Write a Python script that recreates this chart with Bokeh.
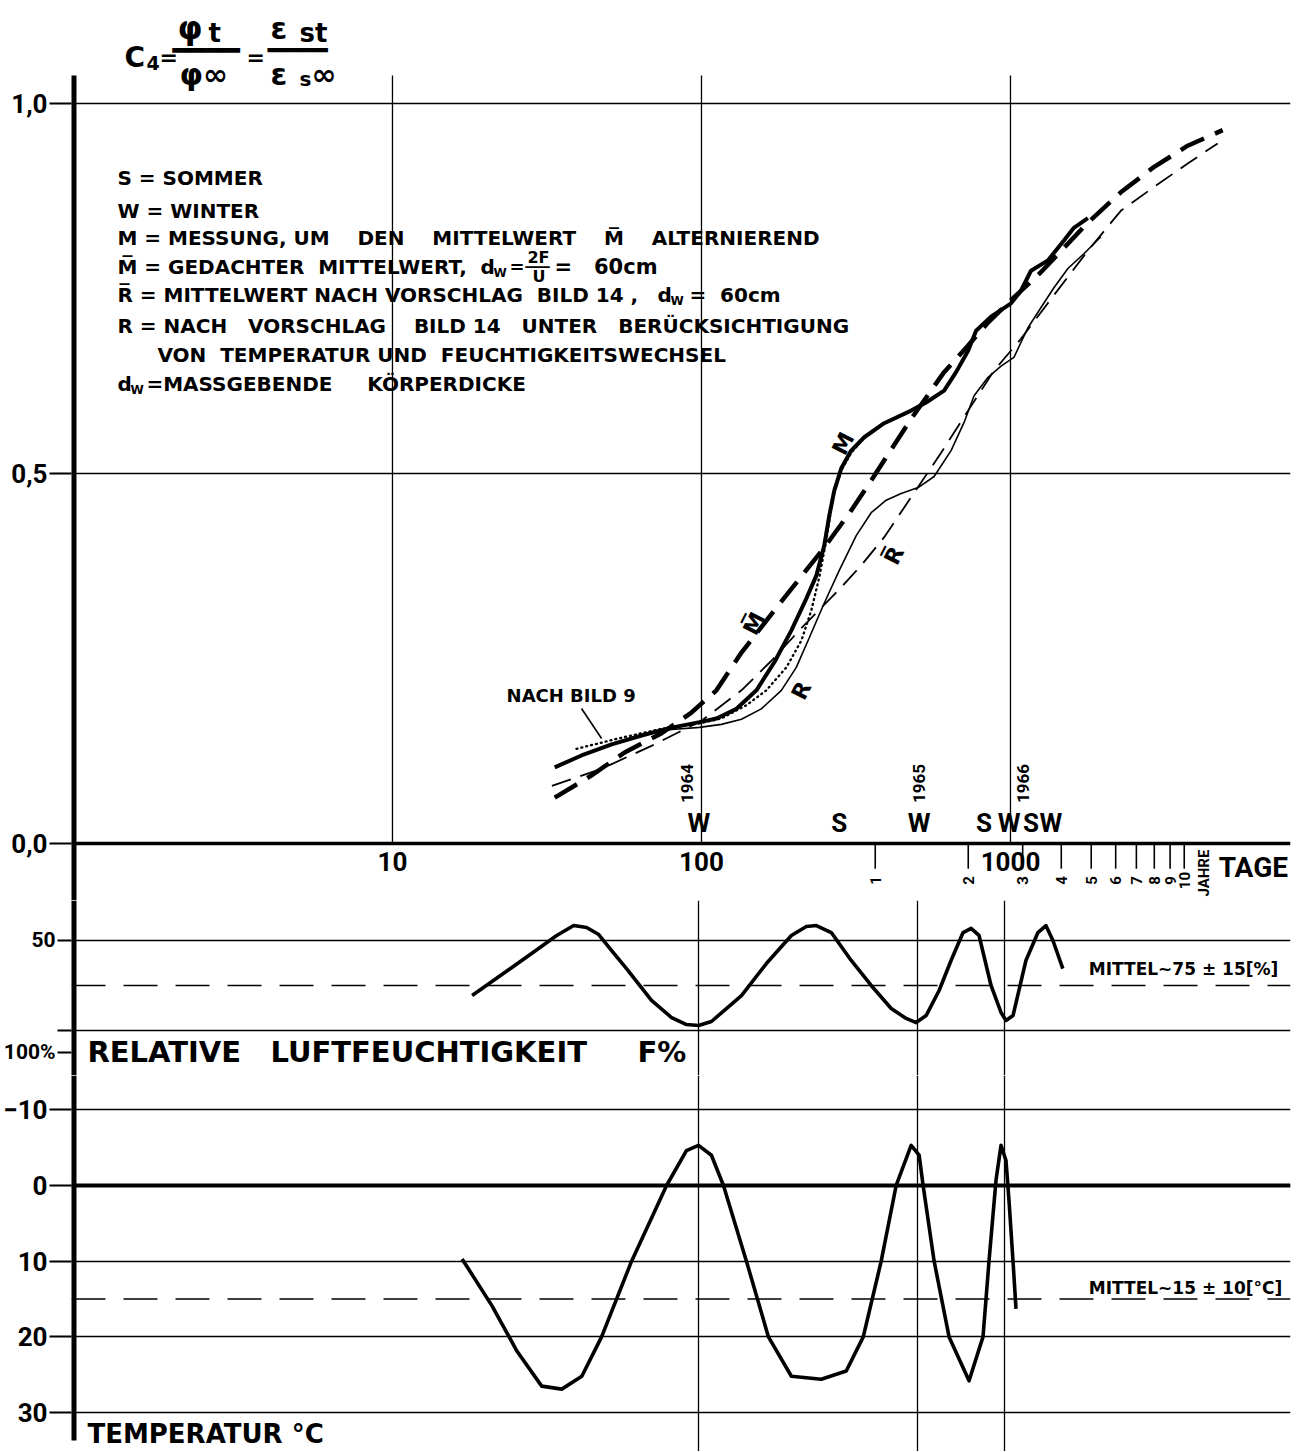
from bokeh.plotting import figure
from bokeh.layouts import column
from bokeh.models import Range1d, FixedTicker, Span
from bokeh.core.properties import value
from bokeh.embed import file_html
from bokeh.resources import INLINE

FONT = "DejaVu Sans"
TICKFONT = "Roboto"
NB = "\u00a0"
BAR = "\u2501"

# ---------------- data (x = age in days, log scale) ----------------
# M : measurement (thick solid, alternating about M-bar)
m_days = [33.5, 40.9, 51.2, 64.0, 77.1, 88.1, 98.5, 111.8, 129.8, 150.6, 172.1, 195.4, 218.4, 235.3,
          249.7, 259.2, 269.0, 283.4, 305.2, 336.3, 390.2, 477.0, 533.3, 609.8, 666.6, 729.2, 773.7,
          865.0, 1004, 1081, 1165, 1322, 1489, 1604, 1780]
m_vals = [0.103, 0.119, 0.134, 0.146, 0.155, 0.160, 0.164, 0.169, 0.182, 0.207, 0.245, 0.288, 0.331, 0.362,
          0.403, 0.443, 0.477, 0.507, 0.531, 0.549, 0.568, 0.585, 0.596, 0.612, 0.637, 0.666, 0.693,
          0.712, 0.730, 0.747, 0.774, 0.788, 0.815, 0.832, 0.845]
# M-bar : assumed mean value (thick dashed)
mbar_days = [33.5, 44.1, 56.4, 74.3, 92.8, 111.8, 134.7, 172.1, 210.4, 249.7, 305.2, 362.4, 477.0, 609.8,
             729.2, 845.9, 1026, 1254, 1780, 2275, 2909, 3746, 4860]
mbar_vals = [0.062, 0.092, 0.123, 0.149, 0.177, 0.207, 0.258, 0.315, 0.361, 0.400, 0.450, 0.497, 0.574, 0.637,
             0.673, 0.704, 0.738, 0.772, 0.839, 0.880, 0.914, 0.943, 0.964]
# R-bar : mean value after proposal Bild 14 (thin dashed)
rbar_days = [32.8, 47.5, 68.9, 100, 134.7, 168.4, 210.4, 277.2, 328.9, 390.2, 477.0, 596.4, 729.2, 884.6,
             1081, 1382, 1780, 2275, 2909, 3746, 4682]
rbar_vals = [0.078, 0.101, 0.132, 0.166, 0.207, 0.247, 0.291, 0.342, 0.376, 0.414, 0.468, 0.528, 0.585, 0.639,
             0.682, 0.741, 0.801, 0.855, 0.887, 0.919, 0.946]
# R : after proposal Bild 14 with temperature/humidity changes (thin solid)
r_days = [64.0, 80.0, 98.5, 116.0, 134.7, 156.2, 181.4, 202.7, 223.3, 247.9, 279.2, 316.8, 354.2, 396.0,
          442.9, 502.5, 566.1, 642.2, 707.6, 762.4, 845.9, 931.8, 1026, 1139, 1254, 1382, 1534, 1728, 1961]
r_vals = [0.146, 0.154, 0.157, 0.161, 0.168, 0.182, 0.207, 0.238, 0.278, 0.322, 0.369, 0.416, 0.447, 0.464,
          0.473, 0.481, 0.496, 0.531, 0.569, 0.605, 0.630, 0.645, 0.657, 0.697, 0.724, 0.751, 0.777, 0.797, 0.820]
# "NACH BILD 9" (dotted)
b9_days = [39.4, 55.1, 74.3, 97.8, 116.0, 139.8, 162.2, 188.2, 210.4, 226.7, 240.6, 253.5, 267.0, 283.4,
           305.2, 333.8]
b9_vals = [0.128, 0.143, 0.155, 0.162, 0.169, 0.187, 0.207, 0.238, 0.274, 0.315, 0.360, 0.410, 0.470, 0.504,
           0.528, 0.547]

# relative humidity F %
hum_days = [18.1, 22.6, 28.2, 34.0, 38.6, 42.5, 46.5, 51.2, 57.2, 68.9, 80.0, 89.4, 97.8, 107.7, 120.4,
            134.7, 162.2, 195.4, 218.4, 235.3, 263.1, 305.2, 354.2, 411.1, 459.6, 495.1, 533.3, 587.5,
            642.2, 702.3, 745.6, 791.1, 865.0, 931.8, 967.1, 1019, 1122, 1227, 1302, 1372, 1477]
hum_vals = [80.6, 68.9, 57.2, 47.2, 41.7, 42.8, 46.7, 55.6, 65.6, 83.3, 92.8, 96.7, 97.2, 95.0, 87.8,
            80.6, 62.8, 47.2, 42.2, 41.7, 45.6, 61.1, 75.0, 87.8, 93.3, 95.6, 91.7, 77.8,
            61.1, 45.6, 43.3, 47.2, 75.0, 90.0, 94.4, 91.7, 61.1, 45.6, 41.7, 50.0, 65.6]
hum_mean = 75

# temperature degC
temp_days = [16.8, 21.0, 25.3, 30.4, 35.3, 41.0, 47.5, 59.4, 77.1, 89.4, 97.8, 107.7, 117.8, 139.8, 164.7,
             195.4, 244.2, 294.1, 333.8, 381.6, 426.6, 477.0, 506.3, 521.5, 566.1, 632.8, 734.4, 814.8,
             852.1, 897.8, 931.8, 967.1, 989, 1019, 1042]
temp_vals = [9.7, 15.9, 21.9, 26.5, 26.9, 25.2, 20.0, 10.0, 0.0, -4.6, -5.3, -4.0, 0.0, 10.0, 20.0,
             25.2, 25.6, 24.5, 20.0, 10.0, 0.0, -5.3, -4.0, 0.0, 10.0, 20.0, 25.8, 20.0,
             10.0, -0.7, -5.3, -3.3, 2.0, 10.0, 16.3]
temp_mean = 15

# axes / ticks / annotations
decade_ticks = [10, 100, 1000]
decade_labels = ["10", "100", "1000"]
year_ticks = [365, 730, 1095, 1460, 1825, 2190, 2555, 2920, 3285, 3650]
year_labels = ["1", "2", "3", "4", "5", "6", "7", "8", "9", "10"]
winter_days = [98, 500, 953]
season_days = [98, 279, 506, 821, 989, 1165, 1351]
season_labels = ["W", "S", "W", "S", "W", "S", "W"]
winter_years = ["1964", "1965", "1966"]
winter_year_days = [90, 506, 1098]
c4_ticks = [0, 0.5, 1.0]
c4_labels = ["0,0", "0,5", "1,0"]
hum_ticks = [50, 100]
hum_label_row = 112.2          # row of the "100% RELATIVE LUFTFEUCHTIGKEIT" caption
temp_ticks = [-10, 0, 10, 20, 30]

# ---------------- figures ----------------
W = 1295
XR = Range1d(0.9147, 8057)
C4_TOP = 1.0378           # top end of the C4 grid
common = dict(width=W, x_range=XR, x_axis_type="log", x_axis_location=None, output_backend="svg",
              toolbar_location=None, min_border_left=69, min_border_right=5, min_border_bottom=0,
              background_fill_color="white", border_fill_color="white")

pA = figure(height=900, y_range=Range1d(-0.0770, 1.1338), min_border_top=4, **common)
pB = figure(height=175, y_range=Range1d(125, 27.78), min_border_top=0, **common)
pC = figure(height=376, y_range=Range1d(35.14, -14.53), min_border_top=0, **common)


def style_left(p, ticks, grid_ticks, overrides=None, size="26px", tick_out=22):
    ax = p.yaxis[0]
    ax.ticker = FixedTicker(ticks=ticks)
    if overrides:
        ax.major_label_overrides = overrides
    ax.axis_line_color = None
    ax.major_tick_out = tick_out
    ax.major_tick_in = 0
    ax.major_tick_line_width = 2
    ax.major_tick_line_color = "black"
    ax.minor_tick_line_color = None
    ax.major_label_text_font = TICKFONT
    ax.major_label_text_font_style = "bold"
    ax.major_label_text_font_size = size
    ax.major_label_text_color = "black"
    ax.major_label_standoff = 2
    p.ygrid.ticker = FixedTicker(ticks=grid_ticks)
    p.ygrid.grid_line_color = "black"
    p.ygrid.grid_line_width = 1.3
    p.ygrid.grid_line_alpha = 1
    p.outline_line_color = None


style_left(pA, c4_ticks, [0.5, 1.0], {t: l for t, l in zip(c4_ticks, c4_labels)})
style_left(pB, hum_ticks + [hum_label_row], hum_ticks, {100: "", hum_label_row: "100%"},
           size="21px", tick_out=14)
style_left(pC, temp_ticks, temp_ticks)

pA.xgrid.visible = False
for p in (pB, pC):
    p.xgrid.ticker = FixedTicker(ticks=winter_days)
    p.xgrid.grid_line_color = "black"
    p.xgrid.grid_line_width = 1.3
    p.xgrid.grid_line_alpha = 1

# thick left axis line (drawn on the frame edge of every panel)
x0 = XR.start
pA.segment(x0=[x0], y0=[-0.0770], x1=[x0], y1=[C4_TOP], line_width=10, line_color="black")
pB.segment(x0=[x0], y0=[125], x1=[x0], y1=[27.78], line_width=10, line_color="black")
pC.segment(x0=[x0], y0=[-14.53], x1=[x0], y1=[33.7], line_width=10, line_color="black")


def txt(p, x, y, text, size, angle=0.0, align="left", baseline="middle", xo=0, yo=0, style="bold",
        font=FONT):
    p.text(x=x, y=y, text=text, text_font=value(font), text_font_size=size, text_font_style=style,
           text_align=align, text_baseline=baseline, angle=angle, x_offset=xo, y_offset=yo,
           text_color="black")


def nb(s):
    return s.replace(" ", NB)


# ---------------- top panel grid & x scale ----------------
pA.segment(x0=decade_ticks, y0=[0] * 3, x1=decade_ticks, y1=[C4_TOP] * 3, line_width=1.3,
           line_color="black")
pA.add_layout(Span(location=0, dimension="width", line_color="black", line_width=3.5))
pA.segment(x0=year_ticks, y0=[0] * len(year_ticks), x1=year_ticks, y1=[-0.034] * len(year_ticks),
           line_width=1.6, line_color="black")
txt(pA, decade_ticks, [-0.0245] * 3, decade_labels, "26px", align="center", font=TICKFONT)
txt(pA, year_ticks, [-0.050] * len(year_ticks), year_labels, "15px", angle=1.5708, align="center",
    font=TICKFONT)
txt(pA, [4220], [-0.040], ["JAHRE"], "15px", angle=1.5708, align="center", font=TICKFONT)
txt(pA, [4718], [-0.0324], ["TAGE"], "28px", font=TICKFONT)

# ---------------- top panel curves ----------------
pA.line(mbar_days, mbar_vals, line_width=4.5, line_color="black", line_dash="26 12")
pA.line(rbar_days, rbar_vals, line_width=1.8, line_color="black", line_dash="20 10")
pA.line(r_days, r_vals, line_width=1.6, line_color="black")
pA.line(b9_days, b9_vals, line_width=2.3, line_color="black", line_dash="1 4", line_cap="round")
pA.line(m_days, m_vals, line_width=4, line_color="black")

# curve labels
txt(pA, [287.6], [0.5405], ["M"], "22px", angle=1.1, align="center")
txt(pA, [148.3], [0.2973], ["M\u0305"], "22px", angle=1.1, align="center")
txt(pA, [210.4], [0.2068], ["R"], "22px", angle=1.1, align="center")
txt(pA, [420.3], [0.3892], ["R\u0305"], "22px", angle=1.1, align="center")
txt(pA, [23.4], [0.200], [nb("NACH BILD 9")], "18px")
pA.segment(x0=[40.9], y0=[0.1824], x1=[47.5], y1=[0.1419], line_width=1.6, line_color="black")

# seasons and years
txt(pA, season_days, [0.0284] * len(season_days), season_labels, "26px", align="center",
    font=TICKFONT)
txt(pA, winter_year_days, [0.0811] * 3, winter_years, "17px", angle=1.5708, align="center",
    font=TICKFONT)

# legend block
LX = 1.288
leg_y = {1: 0.900, 2: 0.8554, 3: 0.8176, 4: 0.7797, 5: 0.7419, 6: 0.700, 7: 0.6595, 8: 0.6216}
pieces = [
    (1, "S = SOMMER", 0, 0, "20px"),
    (2, "W = WINTER", 0, 0, "20px"),
    (3, "M = MESSUNG, UM    DEN    MITTELWERT    M\u0305    ALTERNIEREND", 0, 0, "20px"),
    (4, "M\u0305 = GEDACHTER  MITTELWERT,", 0, 0, "20px"),
    (4, "d", 363, 0, "20px"),
    (4, "W", 376, 6, "12px"),
    (4, "=", 392, 0, "18px"),
    (4, "2F", 410, -9, "16px"),
    (4, "U", 415, 10, "16px"),
    (4, "=   60cm", 437, 0, "21px"),
    (5, "R\u0305 = MITTELWERT NACH VORSCHLAG  BILD 14 ,", 0, 0, "20px"),
    (5, "d", 540, 0, "20px"),
    (5, "W", 553, 6, "12px"),
    (5, "=  60cm", 572, 0, "20px"),
    (6, "R = NACH   VORSCHLAG    BILD 14   UNTER   BER\u00dcCKSICHTIGUNG", 0, 0, "20px"),
    (7, "VON  TEMPERATUR UND  FEUCHTIGKEITSWECHSEL", 40, 0, "20px"),
    (8, "d", 0, 0, "20px"),
    (8, "W", 13, 6, "12px"),
    (8, "=MASSGEBENDE     K\u00d6RPERDICKE", 29, 0, "20px"),
]
for line_no, t, xo, yo, size in pieces:
    txt(pA, [LX], [leg_y[line_no]], [nb(t)], size, xo=xo, yo=yo)
txt(pA, [LX], [leg_y[4]], ["\u2500" * 2], "20px", xo=408, style="normal")

# formula C4 = phi_t / phi_inf = eps_st / eps_s_inf
formula = [
    ("C", 7, 1.0622, "28px", "bold"), ("4", 29, 1.0541, "19px", "bold"), ("=", 42, 1.0622, "22px", "bold"),
    (BAR * 4, 55, 1.0716, "28px", "normal"),
    ("\u03c6", 60, 1.1014, "32px", "bold"), ("t", 91, 1.0959, "26px", "bold"),
    ("\u03c6\u221e", 62, 1.0392, "30px", "bold"),
    ("=", 129, 1.0622, "22px", "bold"),
    (BAR * 4, 150, 1.0716, "25px", "normal"),
    ("\u03b5", 153, 1.1014, "30px", "bold"), ("st", 182, 1.0959, "26px", "bold"),
    ("\u03b5", 153, 1.0392, "30px", "bold"), ("s", 182, 1.0338, "20px", "bold"),
    ("\u221e", 194, 1.0392, "30px", "bold"),
]
for t, xo, y, size, st in formula:
    txt(pA, [LX], [y], [t], size, xo=xo, style=st)

# ---------------- humidity panel ----------------
pB.add_layout(Span(location=hum_mean, dimension="width", line_color="black", line_width=1.6,
                   line_dash="34 18"))
pB.line(hum_days, hum_vals, line_width=3.6, line_color="black", line_join="round")
txt(pB, [1793], [65.6], [nb("MITTEL~75 \u00b1 15[%]")], "17px")
for t, xo in (("RELATIVE", 0), ("LUFTFEUCHTIGKEIT", 183), ("F%", 550)):
    txt(pB, [1.030], [hum_label_row], [t], "29px", xo=xo)

# ---------------- temperature panel ----------------
pC.add_layout(Span(location=0, dimension="width", line_color="black", line_width=4))
pC.add_layout(Span(location=temp_mean, dimension="width", line_color="black", line_width=1.6,
                   line_dash="34 18"))
pC.line(temp_days, temp_vals, line_width=3.6, line_color="black", line_join="round")
txt(pC, [1793], [13.5], [nb("MITTEL~15 \u00b1 10[\u00b0C]")], "17px")
txt(pC, [1.030], [32.8], [nb("TEMPERATUR \u00b0C")], "26px")

layout = column(pA, pB, pC, spacing=0)
open("out.html", "w").write(file_html(layout, INLINE, "Kriechbeiwert C4"))
